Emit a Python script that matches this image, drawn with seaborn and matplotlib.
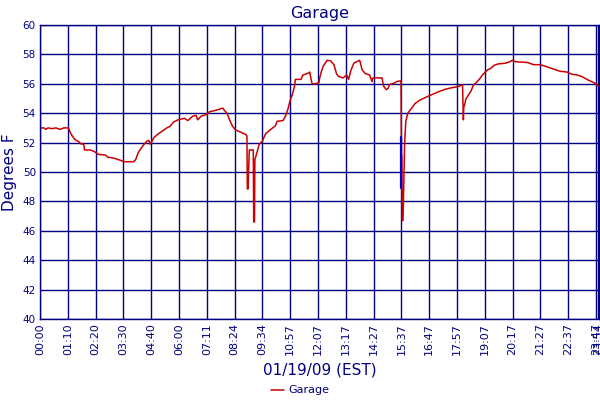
import matplotlib
matplotlib.use('Agg')
import matplotlib.pyplot as plt
import seaborn as sns
import pandas as pd

# sample number (about one reading per minute) and temperature
sample_idx = [
    0, 10, 15, 20, 30, 40, 50, 60, 72, 76, 80, 88, 98, 104, 110, 112, 127, 136,
    147, 165, 171, 185, 202, 211, 236, 241, 247, 254, 261, 269, 274, 277, 282,
    287, 298, 309, 319, 327, 336, 348, 364, 372, 385, 393, 397, 406, 418, 427,
    443, 460, 464, 471, 477, 485, 493, 506, 518, 521, 522, 524, 525, 527, 537,
    538, 540, 541, 545, 552, 560, 568, 581, 593, 597, 612, 618, 624, 629, 635,
    641, 643, 657, 662, 668, 677, 679, 685, 693, 702, 705, 708, 713, 723, 732,
    740, 747, 752, 763, 772, 777, 782, 790, 797, 805, 811, 819, 830, 836, 838,
    848, 861, 865, 872, 877, 880, 892, 898, 907, 909, 910, 911, 912, 914, 916,
    918, 921, 926, 936, 944, 957, 973, 990, 1007, 1023, 1040, 1052, 1060, 1064,
    1065, 1066, 1067, 1070, 1072, 1078, 1085, 1091, 1097, 1106, 1114, 1127,
    1135, 1143, 1153, 1172, 1183, 1189, 1197, 1227, 1243, 1260, 1277, 1293,
    1310, 1327, 1339, 1352, 1364, 1377, 1385, 1397, 1406,
]
temp_f = [
    53.0, 53.0, 52.9, 53.0, 52.95, 53.0, 52.9, 53.0, 53.0, 52.7, 52.5, 52.2,
    52.05, 51.9, 51.9, 51.5, 51.5, 51.4, 51.2, 51.15, 51.0, 50.95, 50.8, 50.7,
    50.7, 50.85, 51.3, 51.6, 51.85, 52.1, 52.15, 51.9, 52.1, 52.35, 52.6, 52.8,
    53.0, 53.1, 53.4, 53.55, 53.65, 53.5, 53.8, 53.85, 53.55, 53.8, 53.9, 54.1,
    54.2, 54.35, 54.2, 54.0, 53.55, 53.1, 52.85, 52.7, 52.55, 52.45, 48.85,
    48.85, 49.95, 51.5, 51.5, 46.6, 46.6, 50.85, 51.2, 51.9, 52.1, 52.6, 52.9,
    53.15, 53.45, 53.5, 53.8, 54.25, 54.8, 55.25, 55.85, 56.3, 56.3, 56.6,
    56.65, 56.75, 56.8, 56.0, 56.0, 56.07, 56.5, 56.8, 57.2, 57.6, 57.55, 57.3,
    56.65, 56.5, 56.4, 56.6, 56.3, 56.85, 57.4, 57.5, 57.6, 56.95, 56.7, 56.6,
    56.15, 56.4, 56.4, 56.4, 55.85, 55.6, 55.7, 55.95, 56.05, 56.15, 56.2, 56.2,
    51.1, 51.1, 46.7, 46.7, 49.3, 51.9, 53.45, 54.0, 54.35, 54.65, 54.9, 55.1,
    55.3, 55.5, 55.65, 55.75, 55.8, 55.9, 55.9, 54.7, 53.55, 54.4, 54.65,
    54.95, 55.2, 55.5, 55.9, 56.05, 56.3, 56.6, 56.95, 57.05, 57.25, 57.35,
    57.4, 57.5, 57.6, 57.5, 57.45, 57.3, 57.3, 57.15, 57.0, 56.85, 56.8, 56.65,
    56.6, 56.5, 56.3, 56.2, 56.05, 55.85,
]

# short blue trace at the 15:37 drop
blue_idx = [909, 909]
blue_temp = [52.4, 48.9]

tick_idx = [0, 70, 140, 210, 280, 350, 420, 490, 560, 630, 700, 770, 840,
            910, 980, 1050, 1120, 1190, 1260, 1330, 1400, 1406]
tick_labels = ['00:00', '01:10', '02:20', '03:30', '04:40', '06:00', '07:11',
               '08:24', '09:34', '10:57', '12:07', '13:17', '14:27', '15:37',
               '16:47', '17:57', '19:07', '20:17', '21:27', '22:37', '23:47',
               '23:54']

NAVY = '#000080'
RED = '#cc0000'

sns.set_style('white')
plt.rcParams['font.family'] = ['DejaVu Sans']

df = pd.DataFrame({'idx': sample_idx, 'temp': temp_f})
blue = pd.DataFrame({'idx': blue_idx, 'temp': blue_temp})

fig = plt.figure(figsize=(6, 4), dpi=100)
ax = fig.add_axes([0.0667, 0.2025, 0.9313, 0.735])

sns.lineplot(data=df, x='idx', y='temp', ax=ax, color=RED, linewidth=1.1,
             estimator=None, sort=False, label='Garage')
sns.lineplot(data=blue, x='idx', y='temp', ax=ax, color='#0000cc',
             linewidth=1.6, estimator=None, sort=False, legend=False)

ax.set_xlim(0, 1407)
ax.set_ylim(40, 60)
ax.set_yticks(range(40, 61, 2))
ax.set_xticks(tick_idx)
ax.set_xticklabels(tick_labels, rotation=90)
ax.grid(True, color=NAVY, linewidth=1)
ax.set_axisbelow(True)
for s in ax.spines.values():
    s.set_color(NAVY)
    s.set_linewidth(1)
ax.tick_params(length=0, pad=3, labelsize=7.5, colors=NAVY)
ax.tick_params(axis='x', labelsize=8)

ax.set_title('Garage', fontsize=11.5, color=NAVY, pad=5)
ax.set_ylabel('Degrees F', fontsize=11, color=NAVY, labelpad=4)
ax.set_xlabel('01/19/09 (EST)', fontsize=11, color=NAVY, labelpad=5)

# legend sits under the x label, centred on the figure
handles, labels = ax.get_legend_handles_labels()
ax.get_legend().remove()
fig.legend(handles, labels, loc='center', bbox_to_anchor=(0.5, 0.024),
           frameon=False, fontsize=8, handlelength=1.2, handletextpad=0.4,
           labelcolor=NAVY, borderpad=0)

fig.savefig('out.png', dpi=100)
